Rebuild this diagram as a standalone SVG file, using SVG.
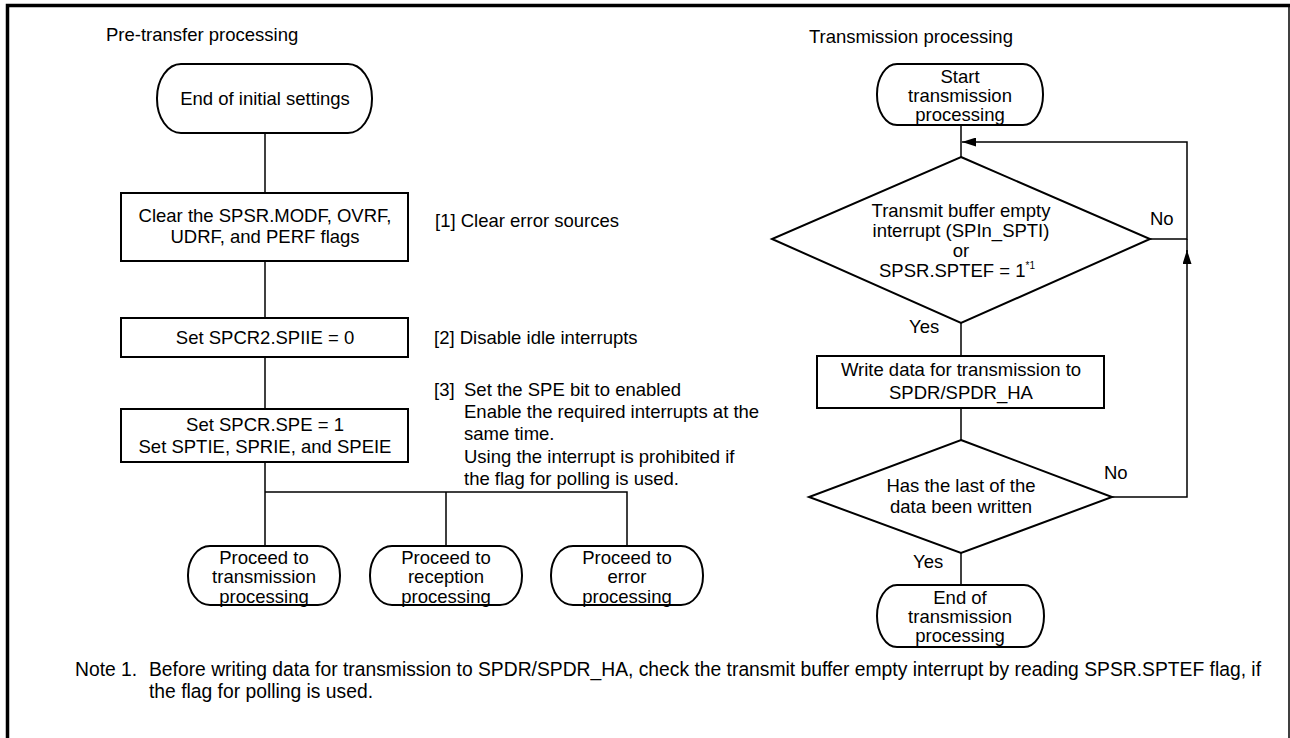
<svg xmlns="http://www.w3.org/2000/svg" width="1290" height="738" viewBox="0 0 1290 738">
<style>
text{font-family:"Liberation Sans",Arial,sans-serif;font-size:18.5px;fill:#000}
.c{text-anchor:middle}
.note{font-size:19.3px}
.box{fill:#fff;stroke:#000;stroke-width:2}
.ln{fill:none;stroke:#000;stroke-width:1.5}
.frame{fill:none;stroke:#000}
</style>
<defs>
<marker id="ah" viewBox="0 0 14 9" refX="14" refY="4.5" markerWidth="14" markerHeight="9" markerUnits="userSpaceOnUse" orient="auto">
<path d="M0,0 L14,4.5 L0,9 z" fill="#000"/>
</marker>
</defs>
<rect width="1290" height="738" fill="#fff"/>
<path class="frame" d="M7.5,738 V5.5 H1290" stroke-width="3.5"/>
<path class="frame" d="M1289,5 V738" stroke-width="1.5"/>

<text x="106" y="41">Pre-transfer processing</text>
<text x="809" y="43">Transmission processing</text>

<g id="connectors">
<path class="ln" d="M265,133 V193"/>
<path class="ln" d="M265,261 V318"/>
<path class="ln" d="M265,357 V409"/>
<path class="ln" d="M265,462 V546 M265,492 H627 V546 M446,492 V546"/>
<path class="ln" d="M961,125 V157"/>
<path class="ln" d="M961,323 V356"/>
<path class="ln" d="M961,408 V440"/>
<path class="ln" d="M961,553 V585"/>
<path class="ln" d="M1150,239 H1187 V142 H962" marker-end="url(#ah)"/>
<path class="ln" d="M1112,497 H1187 V250" marker-end="url(#ah)"/>
<path class="ln" d="M1187,252 V239"/>
<text x="1150" y="225">No</text>
<text x="909" y="333">Yes</text>
<text x="1104" y="479">No</text>
<text x="913" y="568">Yes</text>
</g>

<g id="n-end-initial">
<rect class="box" x="157" y="64" width="215" height="69" rx="24" ry="34"/>
<text class="c" x="265" y="105">End of initial settings</text>
</g>

<g id="n-clear">
<rect class="box" x="121" y="193" width="287" height="68"/>
<text class="c" x="265" y="222">Clear the SPSR.MODF, OVRF,</text>
<text class="c" x="265" y="243">UDRF, and PERF flags</text>
<text x="435" y="227">[1] Clear error sources</text>
</g>

<g id="n-spiie">
<rect class="box" x="121" y="318" width="287" height="39"/>
<text class="c" x="265" y="344">Set SPCR2.SPIIE = 0</text>
<text x="434" y="344">[2] Disable idle interrupts</text>
</g>

<g id="n-spe">
<rect class="box" x="121" y="409" width="287" height="53"/>
<text class="c" x="265" y="431">Set SPCR.SPE = 1</text>
<text class="c" x="265" y="453">Set SPTIE, SPRIE, and SPEIE</text>
<text x="434" y="396">[3]</text>
<text x="464" y="396">Set the SPE bit to enabled</text>
<text x="464" y="418">Enable the required interrupts at the</text>
<text x="464" y="440">same time.</text>
<text x="464" y="463">Using the interrupt is prohibited if</text>
<text x="464" y="485">the flag for polling is used.</text>
</g>

<g id="n-proc-tx">
<rect class="box" x="188" y="546" width="152" height="59" rx="22" ry="29"/>
<text class="c" x="264" y="564">Proceed to</text>
<text class="c" x="264" y="583">transmission</text>
<text class="c" x="264" y="603">processing</text>
</g>

<g id="n-proc-rx">
<rect class="box" x="370" y="546" width="152" height="59" rx="22" ry="29"/>
<text class="c" x="446" y="564">Proceed to</text>
<text class="c" x="446" y="583">reception</text>
<text class="c" x="446" y="603">processing</text>
</g>

<g id="n-proc-err">
<rect class="box" x="551" y="546" width="152" height="59" rx="22" ry="29"/>
<text class="c" x="627" y="564">Proceed to</text>
<text class="c" x="627" y="583">error</text>
<text class="c" x="627" y="603">processing</text>
</g>

<g id="n-start-tx">
<rect class="box" x="877" y="64" width="166" height="61" rx="20" ry="30"/>
<text class="c" x="960" y="83">Start</text>
<text class="c" x="960" y="102">transmission</text>
<text class="c" x="960" y="121">processing</text>
</g>

<g id="n-dec-empty">
<polygon class="box" points="961,157 1150,239 961,323 772,239"/>
<text class="c" x="961" y="217">Transmit buffer empty</text>
<text class="c" x="961" y="237">interrupt (SPIn_SPTI)</text>
<text class="c" x="961" y="257">or</text>
<text class="c" x="957" y="277">SPSR.SPTEF = 1<tspan font-size="10" dy="-8">*1</tspan></text>
</g>

<g id="n-write">
<rect class="box" x="817" y="356" width="287" height="52"/>
<text class="c" x="961" y="376">Write data for transmission to</text>
<text class="c" x="961" y="399">SPDR/SPDR_HA</text>
</g>

<g id="n-dec-last">
<polygon class="box" points="961,440 1112,497 961,553 809,497"/>
<text class="c" x="961" y="492">Has the last of the</text>
<text class="c" x="961" y="513">data been written</text>
</g>

<g id="n-end-tx">
<rect class="box" x="877" y="585" width="167" height="62" rx="20" ry="31"/>
<text class="c" x="960" y="604">End of</text>
<text class="c" x="960" y="623">transmission</text>
<text class="c" x="960" y="642">processing</text>
</g>

<text class="note" x="75" y="676">Note 1.</text>
<text class="note" x="149" y="676">Before writing data for transmission to SPDR/SPDR_HA, check the transmit buffer empty interrupt by reading SPSR.SPTEF flag, if</text>
<text class="note" x="149" y="698">the flag for polling is used.</text>
</svg>
